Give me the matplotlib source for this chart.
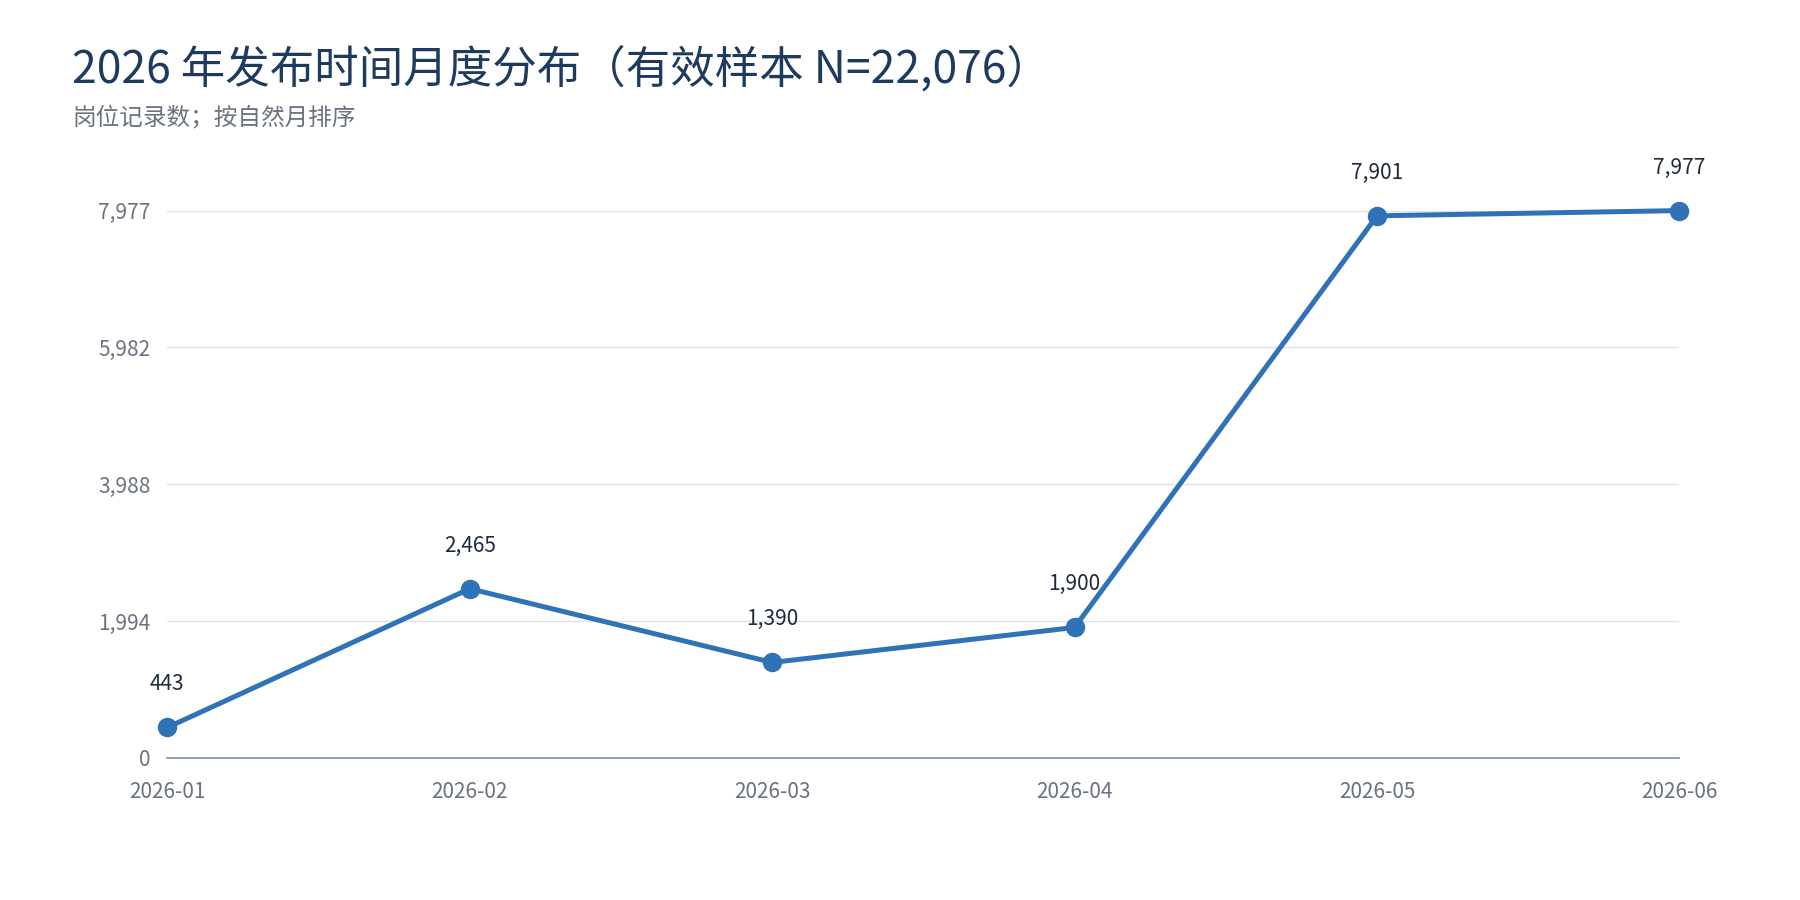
import matplotlib
matplotlib.use("Agg")
import matplotlib.pyplot as plt

plt.rcParams['font.family'] = ['Noto Sans CJK SC', 'DejaVu Sans']

months = ['2026-01', '2026-02', '2026-03', '2026-04', '2026-05', '2026-06']
counts = [443, 2465, 1390, 1900, 7901, 7977]
y_ticks = [0, 1994, 3988, 5982, 7977]

title = '2026 年发布时间月度分布（有效样本 N=22,076）'
subtitle = '岗位记录数；按自然月排序'

line_color = '#2f72b6'

fig = plt.figure(figsize=(18, 9), dpi=100)
ax = fig.add_axes([0.093, 0.158, 0.840, 0.608])

x = list(range(len(months)))
ax.plot(x, counts, color=line_color, linewidth=3.6, marker='o',
        markersize=13, clip_on=False, zorder=3)

for xi, v in zip(x, counts):
    ax.annotate(f'{v:,}', (xi, v), xytext=(0, 31), textcoords='offset points',
                ha='center', va='center', fontsize=15, color='#1f2a3a')

ax.set_xlim(0, len(months) - 1)
ax.set_ylim(0, 7977)
ax.set_xticks(x)
ax.set_xticklabels(months)
ax.set_yticks(y_ticks)
ax.set_yticklabels([f'{t:,}' for t in y_ticks])
ax.tick_params(axis='both', length=0, labelsize=15, colors='#6b7280')
ax.tick_params(axis='y', pad=12)
ax.tick_params(axis='x', pad=17)

ax.grid(axis='y', color='#dde2ea', linewidth=1)
ax.set_axisbelow(True)
for s in ['top', 'right', 'left']:
    ax.spines[s].set_visible(False)
ax.spines['bottom'].set_color('#8597b2')
ax.spines['bottom'].set_linewidth(1.3)

fig.text(0.04, 0.908, title, fontsize=32, color='#1f3a5f', va='baseline')
fig.text(0.04, 0.862, subtitle, fontsize=17, color='#6b7280', va='baseline')

fig.savefig('out.png', dpi=100, facecolor='white')
